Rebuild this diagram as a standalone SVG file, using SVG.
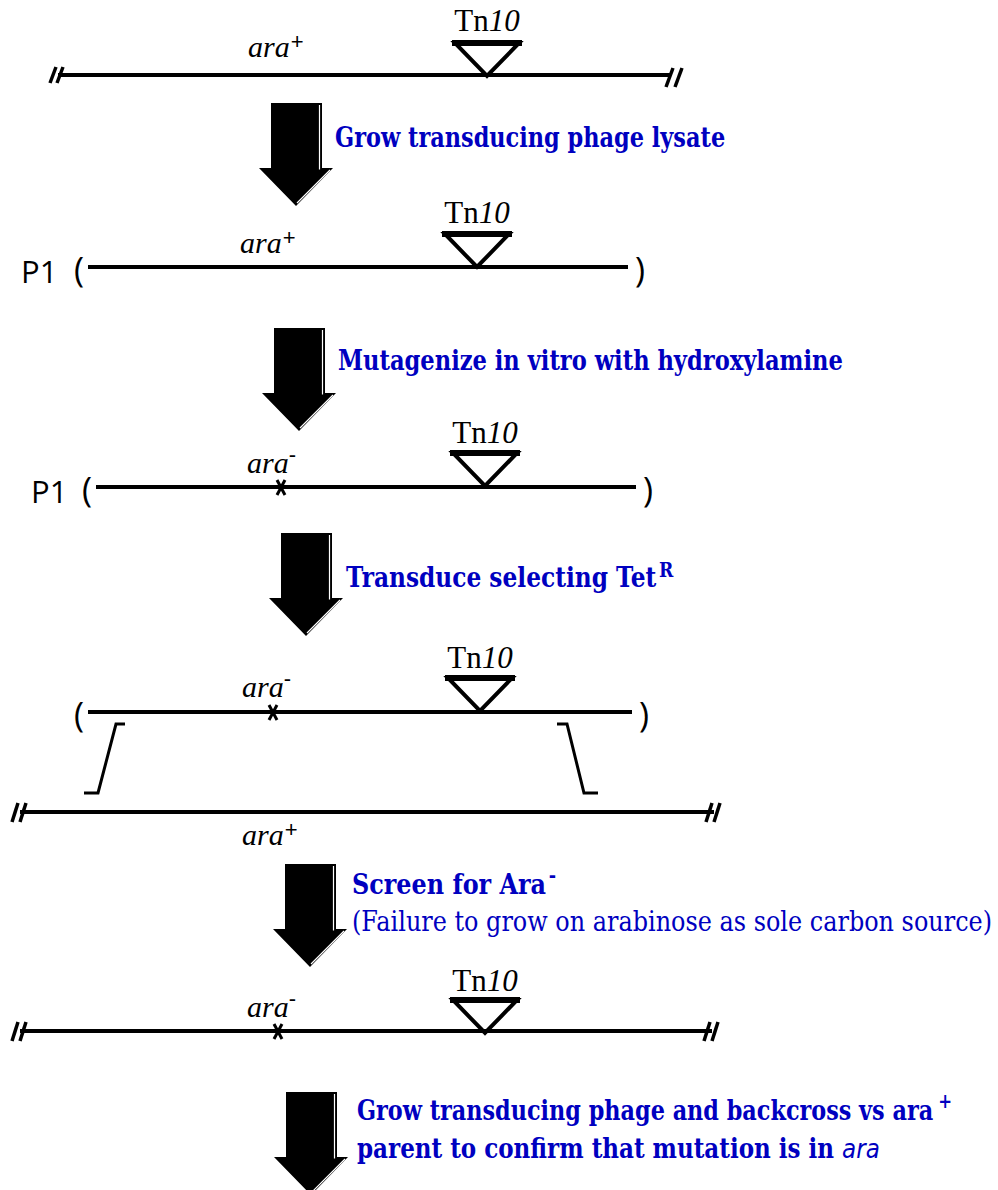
<svg xmlns="http://www.w3.org/2000/svg" xmlns:xlink="http://www.w3.org/1999/xlink" width="998" height="1190" viewBox="0 0 998 1190">
  <style>
    .dna { stroke: #000; stroke-width: 4; fill: none; stroke-linecap: butt; }
    .brk { stroke: #000; stroke-width: 3.5; fill: none; }
    .tri { stroke: #000; stroke-width: 4; fill: none; stroke-linejoin: miter; }
    .bar { stroke: #000; stroke-width: 6; }
    .mut { stroke: #000; stroke-width: 3; }
    .xo { stroke: #000; stroke-width: 3; fill: none; }
    .tn { font-family: "Liberation Serif", "Times New Roman", serif; font-size: 31px; fill: #000; }
    .gene { font-family: "Liberation Serif", "Times New Roman", serif; font-size: 30px; font-style: italic; fill: #000; }
    .sup { font-family: "Liberation Sans", Arial, sans-serif; font-size: 22px; font-style: normal; }
    .p1 { font-family: "Open Sans", "DejaVu Sans", sans-serif; font-size: 31px; fill: #000; }
    .par { font-family: "Open Sans", "DejaVu Sans", sans-serif; font-size: 34px; fill: #000; }
    .step { font-family: "DejaVu Serif", serif; font-weight: bold; font-size: 27px; fill: #0000c0; }
    .note { font-family: "DejaVu Serif", serif; font-size: 27px; fill: #0000c0; }
    .ssup { font-size: 20px; }
    .sit { font-family: "DejaVu Sans", sans-serif; font-style: italic; font-weight: normal; }
    .hi { stroke: #fff; stroke-width: 1.2; fill: none; }
  </style>
  <defs>
    <!-- block arrow with a thin highlight along its right edge -->
    <g id="bigArrow">
      <path d="M-25,0 H26 V65 H37 L0,103 L-37,65 H-25 Z" fill="#000"/>
      <path class="hi" d="M23.5,2 V66.5 M34,67 L1,100"/>
    </g>
    <!-- Tn10 insertion marker; apex sits on the chromosome line -->
    <g id="tn10">
      <polygon class="tri" points="-32,0 32,0 0,33"/>
      <line class="bar" x1="-35" y1="0" x2="35" y2="0"/>
    </g>
  </defs>

  <!-- Step arrows -->
  <g id="arrows">
    <use xlink:href="#bigArrow" transform="translate(296,103)"/>
    <use xlink:href="#bigArrow" transform="translate(299,328)"/>
    <use xlink:href="#bigArrow" transform="translate(306,533)"/>
    <use xlink:href="#bigArrow" transform="translate(310,864)"/>
    <use xlink:href="#bigArrow" transform="translate(311,1092)"/>
  </g>

  <!-- Donor chromosome with Tn10 -->
  <g id="donor">
    <line class="dna" x1="58" y1="75" x2="670" y2="75"/>
    <line class="brk" x1="50" y1="83" x2="56" y2="67"/>
    <line class="brk" x1="57" y1="83" x2="63" y2="67"/>
    <line class="brk" x1="666" y1="87" x2="673" y2="68"/>
    <line class="brk" x1="675" y1="87" x2="682" y2="68"/>
    <use xlink:href="#tn10" transform="translate(487,43)"/>
    <text class="tn" x="487" y="31" text-anchor="middle">Tn<tspan font-style="italic">10</tspan></text>
    <text class="gene" x="248" y="57">ara<tspan class="sup" dx="1" dy="-8">+</tspan></text>
  </g>

  <g id="step1">
    <text class="step" transform="translate(335,147) scale(0.85,1)" textLength="459" lengthAdjust="spacingAndGlyphs">Grow transducing phage lysate</text>
  </g>

  <!-- Transducing phage P1 carrying ara+ -->
  <g id="p1-wt">
    <text class="p1" x="21" y="283">P1</text>
    <text class="par" x="74" y="282">(</text>
    <line class="dna" x1="88" y1="267" x2="628" y2="267"/>
    <text class="par" x="635" y="282">)</text>
    <use xlink:href="#tn10" transform="translate(477,234)"/>
    <text class="tn" x="477" y="223" text-anchor="middle">Tn<tspan font-style="italic">10</tspan></text>
    <text class="gene" x="240" y="253">ara<tspan class="sup" dx="1" dy="-8">+</tspan></text>
  </g>

  <g id="step2">
    <text class="step" transform="translate(338,370) scale(0.85,1)" textLength="594" lengthAdjust="spacingAndGlyphs">Mutagenize in vitro with hydroxylamine</text>
  </g>

  <!-- Mutagenized phage P1 carrying ara- -->
  <g id="p1-mut">
    <text class="p1" x="31" y="503">P1</text>
    <text class="par" x="82" y="502">(</text>
    <line class="dna" x1="96" y1="487" x2="636" y2="487"/>
    <text class="par" x="643" y="502">)</text>
    <line class="mut" x1="277" y1="480" x2="285" y2="495"/>
    <line class="mut" x1="285" y1="480" x2="277" y2="495"/>
    <use xlink:href="#tn10" transform="translate(485,453)"/>
    <text class="tn" x="485" y="443" text-anchor="middle">Tn<tspan font-style="italic">10</tspan></text>
    <text class="gene" x="247" y="473">ara<tspan class="sup" dy="-11">-</tspan></text>
  </g>

  <g id="step3">
    <text class="step" transform="translate(346,587) scale(0.85,1)" textLength="385" lengthAdjust="spacingAndGlyphs">Transduce selecting Tet<tspan class="ssup" dx="3" dy="-10">R</tspan></text>
  </g>

  <!-- Recombination of the transduced fragment into the recipient -->
  <g id="fragment">
    <text class="par" x="74" y="727">(</text>
    <line class="dna" x1="88" y1="712" x2="632" y2="712"/>
    <text class="par" x="639" y="727">)</text>
    <line class="mut" x1="269" y1="705" x2="277" y2="720"/>
    <line class="mut" x1="277" y1="705" x2="269" y2="720"/>
    <use xlink:href="#tn10" transform="translate(480,678)"/>
    <text class="tn" x="480" y="668" text-anchor="middle">Tn<tspan font-style="italic">10</tspan></text>
    <text class="gene" x="242" y="697">ara<tspan class="sup" dy="-11">-</tspan></text>
  </g>

  <g id="crossovers">
    <path class="xo" d="M125,724 H116 L98,793 H84"/>
    <path class="xo" d="M557,724 H567 L584,793 H598"/>
  </g>

  <g id="recipient">
    <line class="dna" x1="20" y1="812" x2="714" y2="812"/>
    <line class="brk" x1="12" y1="822" x2="18" y2="803"/>
    <line class="brk" x1="20" y1="822" x2="26" y2="803"/>
    <line class="brk" x1="706" y1="822" x2="712" y2="803"/>
    <line class="brk" x1="714" y1="822" x2="720" y2="803"/>
    <text class="gene" x="242" y="845">ara<tspan class="sup" dx="1" dy="-8">+</tspan></text>
  </g>

  <g id="step4">
    <text class="step" transform="translate(352,894) scale(0.85,1)" textLength="240" lengthAdjust="spacingAndGlyphs">Screen for Ara<tspan class="ssup" dx="3" dy="-12">-</tspan></text>
    <text class="note" transform="translate(352,931) scale(0.85,1)" textLength="753" lengthAdjust="spacingAndGlyphs">(Failure to grow on arabinose as sole carbon source)</text>
  </g>

  <!-- Resulting ara- mutant chromosome linked to Tn10 -->
  <g id="mutant">
    <line class="dna" x1="20" y1="1031" x2="712" y2="1031"/>
    <line class="brk" x1="12" y1="1041" x2="18" y2="1022"/>
    <line class="brk" x1="20" y1="1041" x2="26" y2="1022"/>
    <line class="brk" x1="704" y1="1041" x2="710" y2="1022"/>
    <line class="brk" x1="712" y1="1041" x2="718" y2="1022"/>
    <line class="mut" x1="274" y1="1024" x2="282" y2="1039"/>
    <line class="mut" x1="282" y1="1024" x2="274" y2="1039"/>
    <use xlink:href="#tn10" transform="translate(485,1000)"/>
    <text class="tn" x="485" y="991" text-anchor="middle">Tn<tspan font-style="italic">10</tspan></text>
    <text class="gene" x="247" y="1017">ara<tspan class="sup" dy="-11">-</tspan></text>
  </g>

  <g id="step5">
    <text class="step" transform="translate(357,1120) scale(0.85,1)" textLength="700" lengthAdjust="spacingAndGlyphs">Grow transducing phage and backcross vs ara<tspan class="ssup" dx="6" dy="-12">+</tspan></text>
    <text class="step" transform="translate(357,1158) scale(0.85,1)" textLength="615" lengthAdjust="spacingAndGlyphs">parent to confirm that mutation is in <tspan class="sit">ara</tspan></text>
  </g>
</svg>
